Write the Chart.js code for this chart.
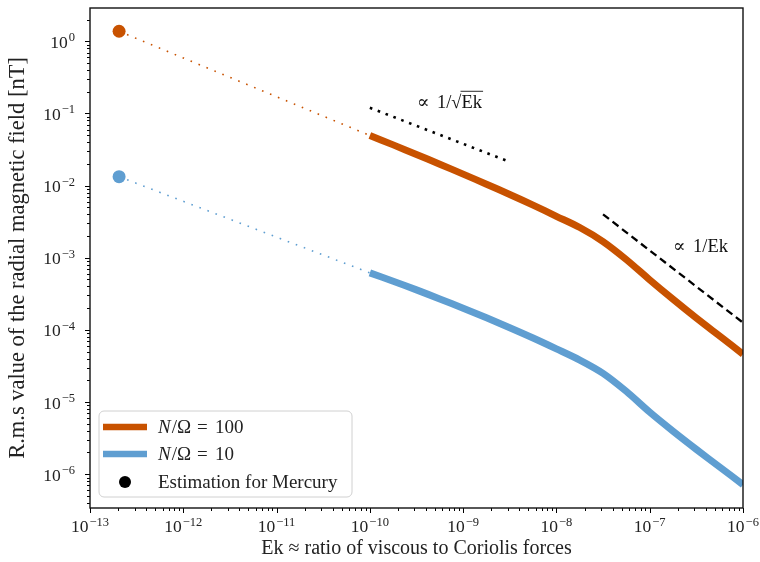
<!DOCTYPE html>
<html>
<head>
<meta charset="utf-8">
<script src="https://cdn.jsdelivr.net/npm/chart.js@4/dist/chart.umd.min.js"></script>
<style>
  html, body { margin: 0; padding: 0; background: #fff; }
  #wrap { width: 760px; height: 562px; }
</style>
</head>
<body>
<div id="wrap"><canvas id="myChart" width="760" height="562"></canvas></div>
<script>
// Ekman numbers along the model curves (quarter-decade steps)
const ekValues = [1e-10, 1.78e-10, 3.16e-10, 5.62e-10, 1e-9, 1.78e-9, 3.16e-9, 5.62e-9, 1e-8,
                  1.78e-8, 3.16e-8, 5.62e-8, 1e-7, 1.78e-7, 3.16e-7, 5.62e-7, 1e-6];
// rms radial field [nT], N/Omega = 100
const brN100 = [0.04955, 0.03673, 0.02707, 0.01984, 0.01445, 0.01047, 0.007542, 0.00537, 0.003758,
                0.00263, 0.001679, 9.44e-4, 4.95e-4, 2.66e-4, 1.462e-4, 8.22e-5, 4.62e-5];
// rms radial field [nT], N/Omega = 10
const brN10 = [6.17e-4, 4.73e-4, 3.59e-4, 2.69e-4, 2.0e-4, 1.471e-4, 1.072e-4, 7.72e-5, 5.46e-5,
               3.82e-5, 2.5e-5, 1.404e-5, 7.24e-6, 3.94e-6, 2.21e-6, 1.259e-6, 7.16e-7];
// Mercury estimate
const mercuryEk = 2.05e-13;
const mercuryN100 = 1.38;
const mercuryN10 = 0.0133;
// scaling guides
const sqrtGuideEk = [1e-10, 3e-9];
const sqrtGuideB = [0.12, 0.0219];
const invGuideEk = [3.16e-8, 1e-6];
const invGuideB = [0.004, 1.26e-4];
const xTicks = [1e-13, 1e-12, 1e-11, 1e-10, 1e-9, 1e-8, 1e-7, 1e-6];
const yTicks = [1e-6, 1e-5, 1e-4, 1e-3, 1e-2, 1e-1, 1e0];

const ORANGE = '#C85200';
const BLUE = '#5F9ED1';
const SERIF = '"Liberation Serif", "DejaVu Serif", serif';
const TXT = '#222';

const pts = (xs, ys) => xs.map((x, i) => ({x: x, y: ys[i]}));

function expOf(v) {
    return String(Math.round(Math.log10(v))).replace('-', '\u2212');
}

// draws "10" with a raised exponent; align is 'center' or 'right'
function drawPow(ctx, v, x, baseline, align) {
    const e = expOf(v);
    ctx.font = '17.5px ' + SERIF;
    const wb = ctx.measureText('10').width;
    ctx.font = '12.5px ' + SERIF;
    const we = ctx.measureText(e).width;
    const total = wb + 1 + we;
    const left = align === 'center' ? x - total / 2 : x - total;
    ctx.textAlign = 'left';
    ctx.textBaseline = 'alphabetic';
    ctx.font = '17.5px ' + SERIF;
    ctx.fillText('10', left, baseline);
    ctx.font = '12.5px ' + SERIF;
    ctx.fillText(e, left + wb + 1, baseline - 6.5);
}

// frame, ticks, tick labels, notes and legend
const decor = {
    id: 'decor',
    afterDraw(chart) {
        const ctx = chart.ctx;
        const a = chart.chartArea;
        const xs = chart.scales.x, ys = chart.scales.y;
        ctx.save();
        ctx.strokeStyle = '#000';
        ctx.lineWidth = 1;
        ctx.beginPath();
        for (let d = -13; d < -6; d++) {
            for (let k = 2; k <= 9; k++) {
                const px = Math.round(xs.getPixelForValue(k * Math.pow(10, d))) + 0.5;
                ctx.moveTo(px, a.bottom); ctx.lineTo(px, a.bottom + 3);
            }
        }
        for (let d = -7; d <= 0; d++) {
            for (let k = 2; k <= 9; k++) {
                const v = k * Math.pow(10, d);
                if (v < ys.min || v > ys.max) continue;
                const py = Math.round(ys.getPixelForValue(v)) + 0.5;
                ctx.moveTo(a.left, py); ctx.lineTo(a.left - 3, py);
            }
        }
        xTicks.forEach(v => {
            const px = Math.round(xs.getPixelForValue(v)) + 0.5;
            ctx.moveTo(px, a.bottom); ctx.lineTo(px, a.bottom + 5);
        });
        yTicks.forEach(v => {
            const py = Math.round(ys.getPixelForValue(v)) + 0.5;
            ctx.moveTo(a.left, py); ctx.lineTo(a.left - 5, py);
        });
        ctx.stroke();
        ctx.lineWidth = 1.4;
        ctx.strokeStyle = '#111';
        ctx.strokeRect(a.left, a.top, a.right - a.left, a.bottom - a.top);

        ctx.fillStyle = TXT;
        xTicks.forEach(v => drawPow(ctx, v, xs.getPixelForValue(v), a.bottom + 24, 'center'));
        yTicks.forEach(v => drawPow(ctx, v, a.left - 15, ys.getPixelForValue(v) + 6.5, 'right'));

        // scaling notes
        ctx.fillStyle = '#111';
        ctx.textAlign = 'left';
        ctx.textBaseline = 'alphabetic';
        ctx.font = '18.5px ' + SERIF;
        let x0 = xs.getPixelForValue(3.2e-10), y0 = ys.getPixelForValue(0.12);
        ctx.fillText('∝', x0, y0);
        ctx.fillText('1/√', x0 + 20, y0);
        const w1 = 20 + ctx.measureText('1/√').width;
        ctx.fillText('Ek', x0 + w1, y0);
        const w2 = ctx.measureText('Ek').width;
        ctx.beginPath();
        ctx.lineWidth = 0.9;
        ctx.moveTo(x0 + w1 - 1, y0 - 16.5); ctx.lineTo(x0 + w1 + w2 + 1, y0 - 16.5);
        ctx.stroke();
        x0 = xs.getPixelForValue(1.78e-7); y0 = ys.getPixelForValue(1.21e-3);
        ctx.fillText('∝', x0, y0);
        ctx.fillText('1/Ek', x0 + 20, y0);

        // legend
        const lx = 99, ly = 411, lw = 253, lh = 86, r = 5;
        ctx.beginPath();
        ctx.moveTo(lx + r, ly);
        ctx.arcTo(lx + lw, ly, lx + lw, ly + lh, r);
        ctx.arcTo(lx + lw, ly + lh, lx, ly + lh, r);
        ctx.arcTo(lx, ly + lh, lx, ly, r);
        ctx.arcTo(lx, ly, lx + lw, ly, r);
        ctx.closePath();
        ctx.fillStyle = 'rgba(255,255,255,0.8)';
        ctx.fill();
        ctx.strokeStyle = '#d0d0d0';
        ctx.lineWidth = 1;
        ctx.stroke();

        ctx.lineWidth = 6.5;
        ctx.lineCap = 'butt';
        ctx.strokeStyle = ORANGE;
        ctx.beginPath(); ctx.moveTo(103, 427); ctx.lineTo(147, 427); ctx.stroke();
        ctx.strokeStyle = BLUE;
        ctx.beginPath(); ctx.moveTo(103, 454); ctx.lineTo(147, 454); ctx.stroke();
        ctx.fillStyle = '#000';
        ctx.beginPath(); ctx.arc(125, 482, 6, 0, Math.PI * 2); ctx.fill();

        ctx.fillStyle = TXT;
        ctx.textBaseline = 'alphabetic';
        const rows = [['100', 433], ['10', 460]];
        rows.forEach(([n, y]) => {
            ctx.font = 'italic 19px ' + SERIF;
            ctx.fillText('N', 158, y);
            const wn = ctx.measureText('N').width;
            ctx.font = '19px ' + SERIF;
            ctx.fillText('/Ω', 158 + wn + 1, y);
            const wo = ctx.measureText('/Ω').width;
            ctx.fillText('=', 158 + wn + wo + 7, y);
            ctx.fillText(n, 158 + wn + wo + 25, y);
        });
        ctx.fillText('Estimation for Mercury', 158, 488);
        ctx.restore();
    }
};

const ctx = document.getElementById('myChart').getContext('2d');
const myChart = new Chart(ctx, {
    type: 'line',
    data: {
        datasets: [
            { data: pts([mercuryEk, ekValues[0]], [mercuryN100, brN100[0]]), borderColor: ORANGE, borderWidth: 1.6, borderDash: [1.6, 7], pointRadius: 0 },
            { data: pts([mercuryEk, ekValues[0]], [mercuryN10, brN10[0]]), borderColor: BLUE, borderWidth: 1.6, borderDash: [1.6, 7], pointRadius: 0 },
            { data: pts(sqrtGuideEk, sqrtGuideB), borderColor: '#000', borderWidth: 2.6, borderDash: [2.6, 5.8], pointRadius: 0 },
            { data: pts(invGuideEk, invGuideB), borderColor: '#000', borderWidth: 2.3, borderDash: [7.5, 4.5], pointRadius: 0 },
            { data: pts(ekValues, brN100), borderColor: ORANGE, borderWidth: 7, tension: 0.3, pointRadius: 0 },
            { data: pts(ekValues, brN10), borderColor: BLUE, borderWidth: 7, tension: 0.3, pointRadius: 0 },
            { data: pts([mercuryEk, mercuryEk], [mercuryN100, mercuryN10]), showLine: false, pointRadius: 6.5, pointHoverRadius: 6.5,
              pointBackgroundColor: [ORANGE, BLUE], pointBorderWidth: 0, borderColor: 'transparent' }
        ]
    },
    options: {
        animation: false,
        responsive: false,
        layout: { padding: { top: 8, right: 17, left: 0, bottom: 0 } },
        plugins: { legend: { display: false }, tooltip: { enabled: false } },
        scales: {
            x: {
                type: 'logarithmic',
                min: 1e-13, max: 1e-6,
                afterBuildTicks: s => { s.ticks = xTicks.map(v => ({value: v})); },
                afterFit: s => { s.height = 54; },
                grid: { display: false },
                border: { display: false },
                ticks: { display: false },
                title: { display: true, text: 'Ek ≈ ratio of viscous to Coriolis forces', color: TXT, font: { family: SERIF, size: 20 }, padding: { top: 0, bottom: 1 } }
            },
            y: {
                type: 'logarithmic',
                min: 3.4e-7, max: 2.9,
                afterBuildTicks: s => { s.ticks = yTicks.map(v => ({value: v})); },
                afterFit: s => { s.width = 90; },
                grid: { display: false },
                border: { display: false },
                ticks: { display: false },
                title: { display: true, text: 'R.m.s value of the radial magnetic field [nT]', color: TXT, font: { family: SERIF, size: 22.5 }, padding: { top: 5, bottom: 0 } }
            }
        }
    },
    plugins: [decor]
});
</script>
</body>
</html>
